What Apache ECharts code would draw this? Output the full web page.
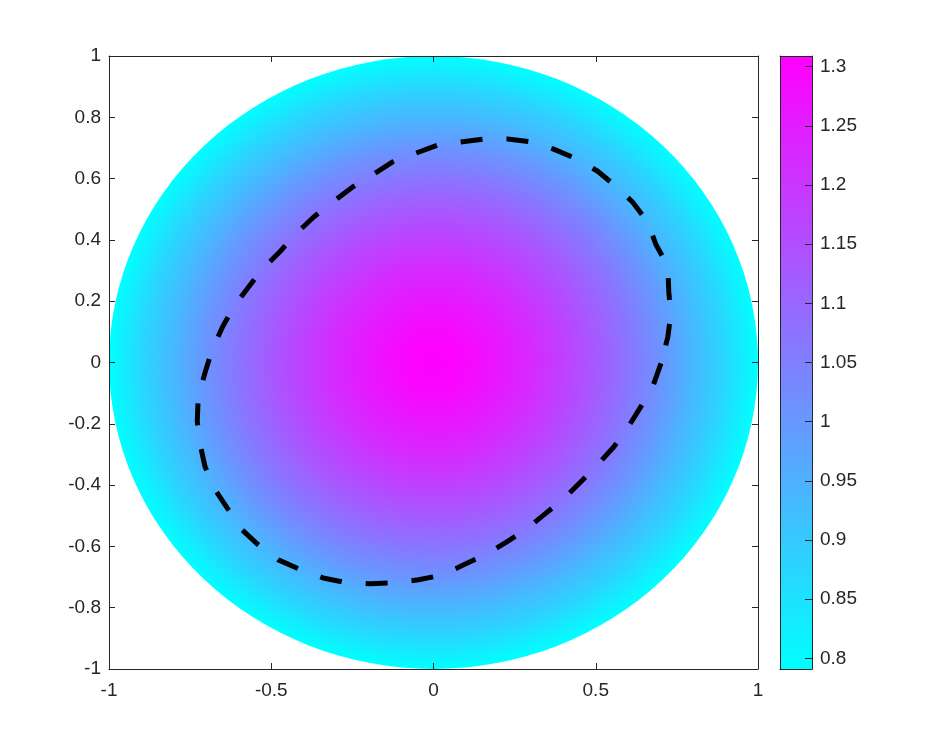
<!DOCTYPE html>
<html>
<head>
<meta charset="utf-8">
<script src="https://cdn.jsdelivr.net/npm/echarts@6/dist/echarts.min.js"></script>
<style>
html, body { margin: 0; background: #fff; }
#chart { width: 940px; height: 752px; }
</style>
</head>
<body>
<div id="chart"></div>
<script>
// radial profile of the field (value at each radius)
const radii = [0, 0.1, 0.2, 0.3, 0.4, 0.5, 0.6, 0.7, 0.8, 0.9, 1.0]
const levels = [1.309, 1.294, 1.262, 1.226, 1.180, 1.128, 1.071, 1.009, 0.937, 0.870, 0.791]
const diskRadius = 1

// dashed curve
const curveX = [0.701, 0.676, 0.639, 0.599, 0.556, 0.506, 0.454, 0.398, 0.340, 0.284,
    0.222, 0.160, 0.093, 0.028, -0.046, -0.123, -0.194, -0.265, -0.340, -0.410,
    -0.478, -0.540, -0.590, -0.636, -0.673, -0.704, -0.719, -0.728, -0.725, -0.704,
    -0.682, -0.651, -0.617, -0.571, -0.528, -0.472, -0.426, -0.370, -0.312, -0.250,
    -0.194, -0.127, -0.062, 0.012, 0.083, 0.154, 0.228, 0.306, 0.370, 0.444,
    0.506, 0.562, 0.614, 0.660, 0.685, 0.722, 0.725, 0.731, 0.722, 0.701]
const curveY = [-0.003, -0.078, -0.144, -0.212, -0.275, -0.333, -0.389, -0.448, -0.497, -0.546,
    -0.588, -0.627, -0.660, -0.693, -0.709, -0.719, -0.722, -0.719, -0.703, -0.676,
    -0.644, -0.595, -0.546, -0.474, -0.415, -0.340, -0.268, -0.193, -0.111, -0.033,
    0.042, 0.114, 0.180, 0.245, 0.304, 0.363, 0.418, 0.474, 0.523, 0.572,
    0.608, 0.654, 0.680, 0.709, 0.719, 0.729, 0.729, 0.719, 0.696, 0.663,
    0.624, 0.575, 0.523, 0.458, 0.386, 0.314, 0.232, 0.157, 0.082, -0.003]

// colorbar
const barTicks = [0.8, 0.85, 0.9, 0.95, 1, 1.05, 1.1, 1.15, 1.2, 1.25, 1.3]
const cMin = 0.791
const cMax = 1.309
const cmap = ['#00ffff', '#ff00ff']

const ink = '#262626'
const font = 'Liberation Sans, Helvetica, Arial, sans-serif'

const colorOf = (v) => echarts.color.lerp((v - cMin) / (cMax - cMin), cmap)

const chart = echarts.init(document.getElementById('chart'))

const axisBase = (extra) => Object.assign({
    type: 'value',
    z: 5,
    splitLine: { show: false },
    axisLine: { show: true, onZero: false, lineStyle: { color: ink, width: 1 } },
    axisTick: { show: true, inside: true, length: 6, lineStyle: { color: ink } },
    axisLabel: { show: false, color: ink, fontSize: 19, fontFamily: font },
}, extra)

const option = {
    animation: false,
    backgroundColor: '#fff',
    grid: [
        { left: 109, top: 56, width: 649, height: 613 },
        { left: 780, top: 56, width: 32, height: 613 },
    ],
    xAxis: [
        axisBase({ gridIndex: 0, position: 'bottom', min: -1, max: 1, interval: 0.5,
            axisLabel: { show: true, color: ink, fontSize: 19, fontFamily: font, margin: 12 } }),
        axisBase({ gridIndex: 0, position: 'top', min: -1, max: 1, interval: 0.5 }),
        axisBase({ gridIndex: 1, position: 'bottom', min: 0, max: 1, axisTick: { show: false } }),
        axisBase({ gridIndex: 1, position: 'top', min: 0, max: 1, axisTick: { show: false } }),
    ],
    yAxis: [
        axisBase({ gridIndex: 0, position: 'left', min: -1, max: 1, interval: 0.2,
            axisLabel: { show: true, color: ink, fontSize: 19, fontFamily: font, margin: 8 } }),
        axisBase({ gridIndex: 0, position: 'right', min: -1, max: 1, interval: 0.2 }),
        axisBase({ gridIndex: 1, position: 'left', min: cMin, max: cMax, axisTick: { show: false } }),
        axisBase({ gridIndex: 1, position: 'right', min: cMin, max: cMax,
            axisTick: { show: true, inside: true, length: 7, customValues: barTicks, lineStyle: { color: ink } },
            axisLabel: { show: true, customValues: barTicks, color: ink, fontSize: 19, fontFamily: font, margin: 8,
                formatter: (v) => String(Math.round(v * 100) / 100) } }),
    ],
    series: [
        {
            type: 'custom',
            xAxisIndex: 0,
            yAxisIndex: 0,
            z: 1,
            data: [[0, 0]],
            renderItem(params, api) {
                const c = api.coord([api.value(0), api.value(1)])
                const ex = api.coord([api.value(0) + diskRadius, api.value(1)])
                const ey = api.coord([api.value(0), api.value(1) + diskRadius])
                const rx = ex[0] - c[0]
                const ry = c[1] - ey[1]
                return {
                    type: 'circle',
                    shape: { cx: c[0], cy: c[1], r: rx },
                    originX: c[0],
                    originY: c[1],
                    scaleY: ry / rx,
                    style: {
                        fill: new echarts.graphic.RadialGradient(0.5, 0.5, 0.5,
                            radii.map((r, i) => ({ offset: r / diskRadius, color: colorOf(levels[i]) }))),
                    },
                }
            },
        },
        {
            type: 'line',
            xAxisIndex: 0,
            yAxisIndex: 0,
            z: 3,
            symbol: 'none',
            data: curveX.map((x, i) => [x, curveY[i]]),
            lineStyle: { color: '#000', width: 5, type: [22, 24], cap: 'butt', join: 'round' },
        },
        {
            type: 'custom',
            xAxisIndex: 2,
            yAxisIndex: 2,
            z: 1,
            data: [[cMin, cMax]],
            renderItem(params, api) {
                const p0 = api.coord([0, api.value(1)])
                const p1 = api.coord([1, api.value(0)])
                return {
                    type: 'rect',
                    shape: { x: p0[0], y: p0[1], width: p1[0] - p0[0], height: p1[1] - p0[1] },
                    style: {
                        fill: new echarts.graphic.LinearGradient(0, 1, 0, 0, [
                            { offset: 0, color: cmap[0] },
                            { offset: 1, color: cmap[1] },
                        ]),
                    },
                }
            },
        },
    ],
}
chart.setOption(option)
</script>
</body>
</html>
